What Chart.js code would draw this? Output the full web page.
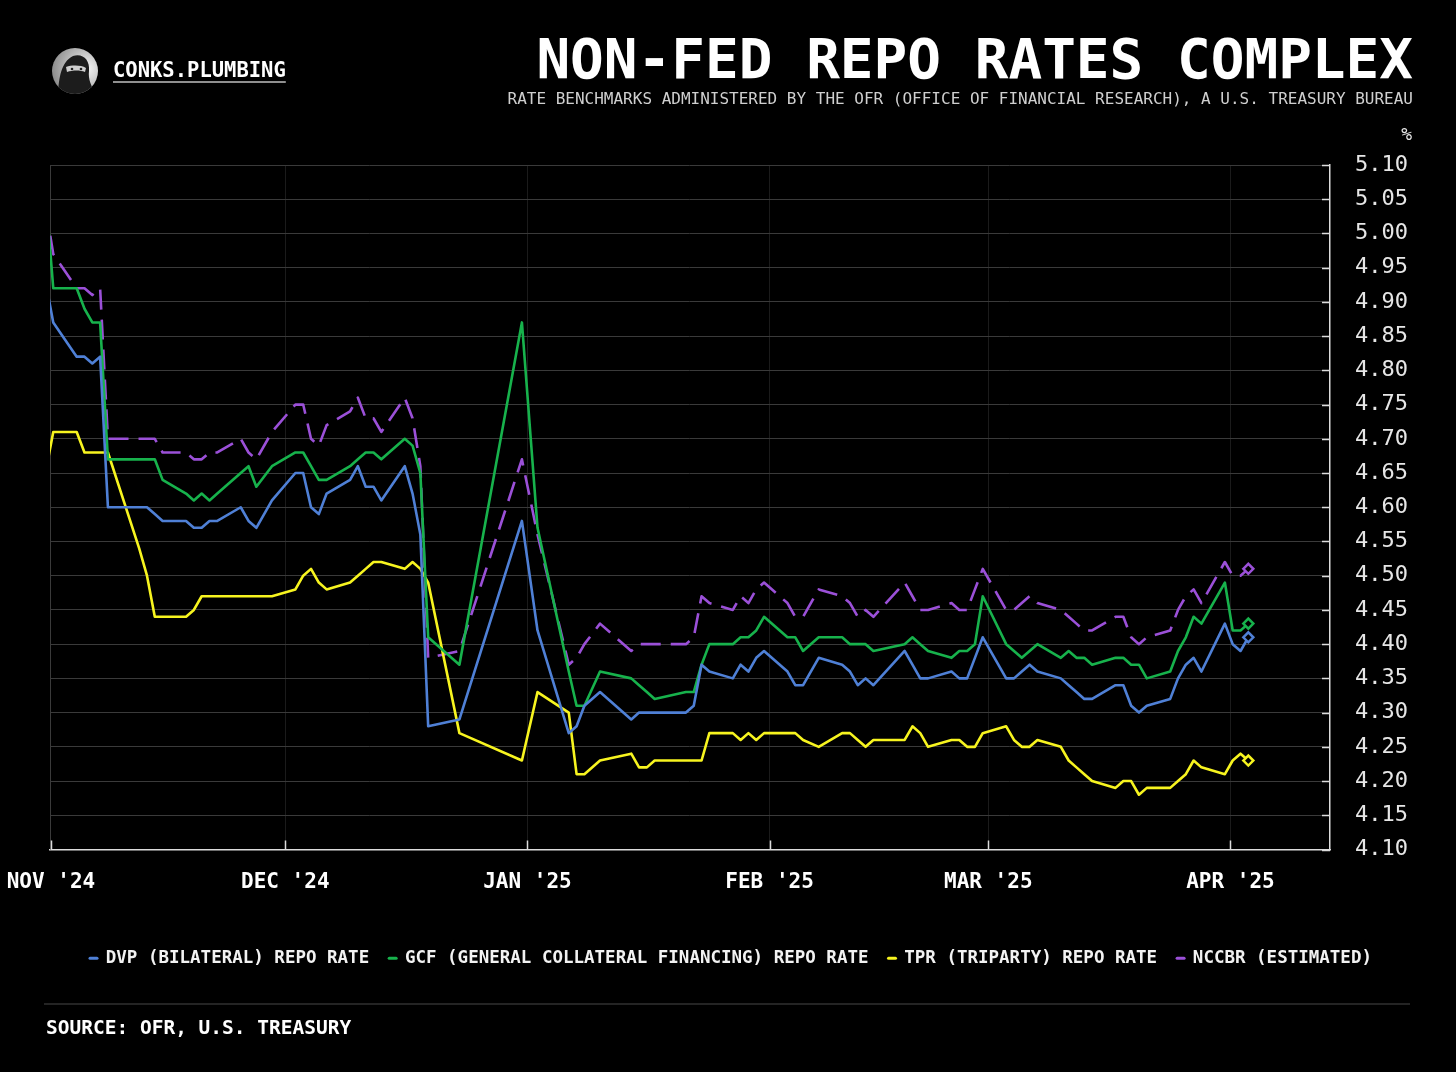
<!DOCTYPE html>
<html>
<head>
<meta charset="utf-8">
<title>Non-Fed Repo Rates Complex</title>
<script src="https://cdn.jsdelivr.net/npm/chart.js@4.4.1/dist/chart.umd.min.js"></script>
<style>
  html, body { margin:0; padding:0; background:#000; }
  body { width:1456px; height:1072px; overflow:hidden; position:relative; font-family:"DejaVu Sans Mono", monospace; color:#fff; }
  #chart { position:absolute; left:0; top:0; width:1456px; height:1072px; }
  .txt { position:absolute; white-space:nowrap; line-height:1; }
  #title { right:43px; top:30.6px; font-size:56px; font-weight:bold; }
  #subtitle { right:43px; top:90.5px; font-size:16px; color:#cfcfcf; }
  #unit { right:44px; top:124.8px; font-size:18px; color:#e6e6e6; }
  #brand { left:113px; top:59.7px; font-size:20.5px; font-weight:bold; text-decoration:underline; text-decoration-color:#8f8f8f; text-decoration-thickness:2px; text-underline-offset:4px; }
  #source { left:46px; top:1017.5px; font-size:19.5px; font-weight:bold; }
  #rule { position:absolute; left:44px; top:1003px; width:1366px; height:2px; background:#242424; }
  #avatar { position:absolute; left:52px; top:48px; }
</style>
</head>
<body>
<canvas id="chart" width="1456" height="1072"></canvas>
<svg id="avatar" width="46" height="46" viewBox="0 0 46 46">
  <defs>
    <clipPath id="cp"><circle cx="23" cy="23" r="23"/></clipPath>
    <radialGradient id="bg" cx="0.75" cy="0.45" r="0.75">
      <stop offset="0" stop-color="#f6f6f6"/>
      <stop offset="1" stop-color="#8c8c8c"/>
    </radialGradient>
  </defs>
  <g clip-path="url(#cp)">
    <rect width="46" height="46" fill="url(#bg)"/>
    <path d="M6 46 C7 30 9 14 21 8 C31 5 38 12 37 23 C36 31 39 38 44 46 Z" fill="#1c1c1c"/>
    <path d="M14 19 C20 17 29 17 34 20 L33 24 C28 22 21 22 15 24 Z" fill="#cfcfcf"/>
    <circle cx="20" cy="21" r="1.3" fill="#222"/>
    <circle cx="29" cy="21" r="1.3" fill="#222"/>
  </g>
</svg>
<div id="brand" class="txt">CONKS.PLUMBING</div>
<div id="title" class="txt">NON-FED REPO RATES COMPLEX</div>
<div id="subtitle" class="txt">RATE BENCHMARKS ADMINISTERED BY THE OFR (OFFICE OF FINANCIAL RESEARCH), A U.S. TREASURY BUREAU</div>
<div id="unit" class="txt">%</div>
<div id="rule"></div>
<div id="source" class="txt">SOURCE: OFR, U.S. TREASURY</div>
<script>
// ---------- DATA ----------
const DATES = [
  '2024-10-31',
  '2024-11-01','2024-11-04','2024-11-05','2024-11-06','2024-11-07','2024-11-08','2024-11-12','2024-11-13','2024-11-14','2024-11-15',
  '2024-11-18','2024-11-19','2024-11-20','2024-11-21','2024-11-22','2024-11-25','2024-11-26','2024-11-27','2024-11-29',
  '2024-12-02','2024-12-03','2024-12-04','2024-12-05','2024-12-06','2024-12-09','2024-12-10','2024-12-11','2024-12-12','2024-12-13',
  '2024-12-16','2024-12-17','2024-12-18','2024-12-19','2024-12-23','2024-12-31',
  '2025-01-02','2025-01-06','2025-01-07','2025-01-08','2025-01-10','2025-01-14','2025-01-15','2025-01-16','2025-01-17',
  '2025-01-21','2025-01-22','2025-01-23','2025-01-24','2025-01-27','2025-01-28','2025-01-29','2025-01-30','2025-01-31',
  '2025-02-03','2025-02-04','2025-02-05','2025-02-07','2025-02-10','2025-02-11','2025-02-12','2025-02-13','2025-02-14',
  '2025-02-18','2025-02-19','2025-02-20','2025-02-21','2025-02-24','2025-02-25','2025-02-26','2025-02-27','2025-02-28',
  '2025-03-03','2025-03-04','2025-03-05','2025-03-06','2025-03-07','2025-03-10','2025-03-11','2025-03-12','2025-03-13','2025-03-14',
  '2025-03-17','2025-03-18','2025-03-19','2025-03-20','2025-03-21','2025-03-24','2025-03-25','2025-03-26','2025-03-27','2025-03-28',
  '2025-03-31','2025-04-01','2025-04-02','2025-04-03'
];

const DVP = [
  4.93,
  4.87,4.82,4.82,4.81,4.82,4.60,4.60,4.60,4.59,4.58,
  4.58,4.57,4.57,4.58,4.58,4.60,4.58,4.57,4.61,
  4.65,4.65,4.60,4.59,4.62,4.64,4.66,4.63,4.63,4.61,
  4.66,4.62,4.56,4.28,4.29,4.58,
  4.42,4.27,4.28,4.31,4.33,4.29,4.30,4.30,4.30,
  4.30,4.31,4.37,4.36,4.35,4.37,4.36,4.38,4.39,
  4.36,4.34,4.34,4.38,4.37,4.36,4.34,4.35,4.34,
  4.39,4.37,4.35,4.35,4.36,4.35,4.35,4.38,4.41,
  4.35,4.35,4.36,4.37,4.36,4.35,4.34,4.33,4.32,4.32,
  4.34,4.34,4.31,4.30,4.31,4.32,4.35,4.37,4.38,4.36,
  4.43,4.40,4.39,4.41
];

const GCF = [
  5.06,
  4.92,4.92,4.89,4.87,4.87,4.67,4.67,4.67,4.67,4.64,
  4.62,4.61,4.62,4.61,4.62,4.65,4.66,4.63,4.66,
  4.68,4.68,4.66,4.64,4.64,4.66,4.67,4.68,4.68,4.67,
  4.70,4.69,4.65,4.41,4.37,4.87,
  4.57,4.36,4.31,4.31,4.36,4.35,4.34,4.33,4.32,
  4.33,4.33,4.37,4.40,4.40,4.41,4.41,4.42,4.44,
  4.41,4.41,4.39,4.41,4.41,4.40,4.40,4.40,4.39,
  4.40,4.41,4.40,4.39,4.38,4.39,4.39,4.40,4.47,
  4.40,4.39,4.38,4.39,4.40,4.38,4.39,4.38,4.38,4.37,
  4.38,4.38,4.37,4.37,4.35,4.36,4.39,4.41,4.44,4.43,
  4.49,4.42,4.42,4.43
];

const TPR = [
  4.65,
  4.71,4.71,4.68,4.68,4.68,4.68,4.54,4.50,4.44,4.44,
  4.44,4.45,4.47,4.47,4.47,4.47,4.47,4.47,4.47,
  4.48,4.50,4.51,4.49,4.48,4.49,4.50,4.51,4.52,4.52,
  4.51,4.52,4.51,4.49,4.27,4.23,
  4.33,4.30,4.21,4.21,4.23,4.24,4.22,4.22,4.23,
  4.23,4.23,4.23,4.27,4.27,4.26,4.27,4.26,4.27,
  4.27,4.27,4.26,4.25,4.27,4.27,4.26,4.25,4.26,
  4.26,4.28,4.27,4.25,4.26,4.26,4.25,4.25,4.27,
  4.28,4.26,4.25,4.25,4.26,4.25,4.23,4.22,4.21,4.20,
  4.19,4.20,4.20,4.18,4.19,4.19,4.20,4.21,4.23,4.22,
  4.21,4.23,4.24,4.23
];

const NCCBR = [
  5.04,
  4.97,4.92,4.92,4.91,4.92,4.70,4.70,4.70,4.70,4.68,
  4.68,4.67,4.67,4.68,4.68,4.70,4.68,4.67,4.71,
  4.75,4.75,4.70,4.69,4.72,4.74,4.76,4.73,4.73,4.71,
  4.76,4.73,4.66,4.38,4.39,4.67,
  4.56,4.37,4.38,4.40,4.43,4.39,4.40,4.40,4.40,
  4.40,4.41,4.47,4.46,4.45,4.47,4.46,4.48,4.49,
  4.46,4.44,4.44,4.48,4.47,4.46,4.44,4.45,4.44,
  4.49,4.47,4.45,4.45,4.46,4.45,4.45,4.48,4.51,
  4.45,4.45,4.46,4.47,4.46,4.45,4.44,4.43,4.42,4.42,
  4.44,4.44,4.41,4.40,4.41,4.42,4.45,4.47,4.48,4.46,
  4.52,4.50,4.50,4.51
];

const SERIES_NAMES = [
  'DVP (BILATERAL) REPO RATE',
  'GCF (GENERAL COLLATERAL FINANCING) REPO RATE',
  'TPR (TRIPARTY) REPO RATE',
  'NCCBR (ESTIMATED)'
];
const SERIES_COLORS = ['#4f80d6', '#17b24c', '#f7f41f', '#9b50d8'];

const MONTH_TICKS = ['2024-11-01','2024-12-01','2025-01-01','2025-02-01','2025-03-01','2025-04-01'];
const MONTH_LABELS = ["NOV '24", "DEC '24", "JAN '25", "FEB '25", "MAR '25", "APR '25"];
const Y_TICKS = [4.10,4.15,4.20,4.25,4.30,4.35,4.40,4.45,4.50,4.55,4.60,4.65,4.70,4.75,4.80,4.85,4.90,4.95,5.00,5.05,5.10];

// ---------- BUILD ----------
const DAY_MS = 86400000;
const ORIGIN = Date.UTC(2024, 10, 1);
const OBS_HOUR = 7; // observation time-of-day used to place each daily value
function toDay(s) {
  const p = s.split('-').map(Number);
  return (Date.UTC(p[0], p[1] - 1, p[2]) - ORIGIN) / DAY_MS;
}
const X = DATES.map(s => toDay(s) + OBS_HOUR / 24);
const monthTickDays = MONTH_TICKS.map(toDay);

function makeDataset(i, values, dashed) {
  const color = SERIES_COLORS[i];
  const last = values.length - 1;
  return {
    label: SERIES_NAMES[i],
    data: values.map((v, k) => ({ x: X[k], y: v })),
    borderColor: color,
    backgroundColor: color,
    borderWidth: 2.6,
    borderDash: dashed ? [20, 10] : [],
    borderJoinStyle: 'round',
    tension: 0,
    fill: false,
    pointStyle: 'rectRot',
    pointRadius: ctx => (ctx.dataIndex === last ? 5 : 0),
    pointHoverRadius: 0,
    pointBackgroundColor: '#000',
    pointBorderColor: color,
    pointBorderWidth: 2.5
  };
}

const framePlugin = {
  id: 'frame',
  beforeDatasetsDraw(chart) {
    const { ctx, chartArea: a, scales } = chart;
    const xs = scales.x, ys = scales.y;
    ctx.save();
    ctx.strokeStyle = '#3a3a3a';
    ctx.lineWidth = 1;
    ctx.beginPath();
    ctx.moveTo(a.left + 0.5, a.top);
    ctx.lineTo(a.left + 0.5, a.bottom);
    ctx.stroke();
    ctx.strokeStyle = '#dcdcdc';
    ctx.lineWidth = 1.5;
    ys.ticks.forEach(t => {
      const py = Math.round(ys.getPixelForValue(t.value)) + 0.5;
      ctx.beginPath(); ctx.moveTo(a.right - 8, py); ctx.lineTo(a.right, py); ctx.stroke();
    });
    xs.ticks.forEach(t => {
      const px = Math.round(xs.getPixelForValue(t.value)) + 0.5;
      ctx.beginPath(); ctx.moveTo(px, a.bottom); ctx.lineTo(px, a.bottom - 9); ctx.stroke();
    });
    ctx.restore();
  }
};

Chart.defaults.font.family = '"DejaVu Sans Mono", monospace';
Chart.defaults.color = '#e6e6e6';

new Chart(document.getElementById('chart'), {
  type: 'line',
  data: {
    datasets: [
      makeDataset(0, DVP, false),
      makeDataset(1, GCF, false),
      makeDataset(2, TPR, false),
      makeDataset(3, NCCBR, true)
    ]
  },
  options: {
    responsive: false,
    animation: false,
    events: [],
    layout: { padding: { top: 165, left: 50, right: 44, bottom: 95 } },
    scales: {
      x: {
        type: 'linear',
        min: -3 / 24,
        max: toDay('2025-04-13') + 18 / 24,
        afterBuildTicks: s => { s.ticks = monthTickDays.map(v => ({ value: v })); },
        afterFit: s => { s.height = 80; },
        ticks: {
          autoSkip: false, maxRotation: 0, minRotation: 0,
          callback: (v, i) => MONTH_LABELS[i],
          font: { size: 21, weight: 'bold' },
          color: '#ffffff',
          padding: 0
        },
        grid: { color: '#1b1b1b', lineWidth: 1, drawTicks: true, tickLength: 20, tickColor: 'rgba(0,0,0,0)' },
        border: { display: true, color: '#dcdcdc', width: 1.5 }
      },
      y: {
        position: 'right',
        min: 4.10, max: 5.10,
        afterBuildTicks: s => { s.ticks = Y_TICKS.map(v => ({ value: v })); },
        afterFit: s => { s.width = 82; },
        ticks: {
          callback: v => Number(v).toFixed(2),
          font: { size: 22 },
          color: '#e6e6e6',
          padding: 25
        },
        grid: { color: '#3a3a3a', lineWidth: 1, drawTicks: false },
        border: { display: true, color: '#dcdcdc', width: 1.5 }
      }
    },
    plugins: {
      tooltip: { enabled: false },
      legend: {
        position: 'bottom',
        align: 'center',
        labels: {
          usePointStyle: true,
          pointStyle: 'line',
          pointStyleWidth: 7,
          boxWidth: 7,
          boxHeight: 3,
          padding: 20,
          color: '#f2f2f2',
          font: { size: 17.5, weight: 'bold' },
          generateLabels(chart) {
            const items = Chart.defaults.plugins.legend.labels.generateLabels(chart);
            items.forEach((it, i) => {
              it.fillStyle = SERIES_COLORS[i];
              it.strokeStyle = SERIES_COLORS[i];
              it.lineWidth = 3;
              it.lineDash = [];
              it.lineCap = 'round';
              it.pointStyle = 'line';
              it.rotation = 0;
            });
            return items;
          }
        }
      }
    }
  },
  plugins: [framePlugin]
});
</script>
</body>
</html>
